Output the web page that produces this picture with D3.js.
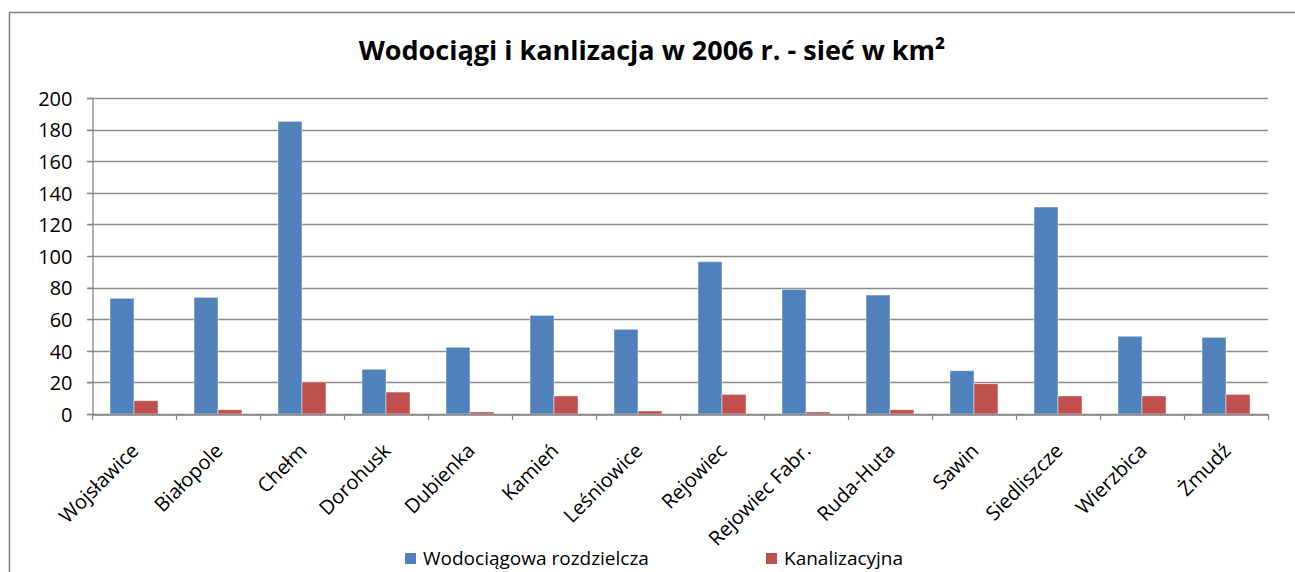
<!DOCTYPE html>
<html><head><meta charset="utf-8">
<script src="https://cdn.jsdelivr.net/npm/d3@7"></script>
<style>body{margin:0;background:#fff}svg{display:block}</style>
</head><body><svg id="c" width="1295" height="572"></svg>
<script>
const categories = ["Wojsławice","Białopole","Chełm","Dorohusk","Dubienka","Kamień","Leśniowice","Rejowiec","Rejowiec Fabr.","Ruda-Huta","Sawin","Siedliszcze","Wierzbica","Żmudź"];
const seriesNames = ["Wodociągowa rozdzielcza","Kanalizacyjna"];
const wodociagowa = [73.2,73.8,185.2,28.3,42.2,62.4,53.6,96.4,78.9,75.3,27.4,131.0,49.2,48.5];
const kanalizacyjna = [8.4,2.7,20.3,13.9,1.3,11.4,1.9,12.4,1.3,2.7,19.2,11.4,11.4,12.4];
const yTicks = [0,20,40,60,80,100,120,140,160,180,200];
const colors = ["#4F81BD","#C0504D"];
const title = "Wodociągi i kanlizacja w 2006 r. - sieć w km²";

const svg = d3.select("#c");
const font = "'Open Sans', 'Liberation Sans', sans-serif";
const L = 92, R = 1268, T = 98, B = 414;

// outer frame (top and left edges visible)
svg.append("rect").attr("x",9.5).attr("y",12.5).attr("width",1400).attr("height",700)
  .attr("fill","none").attr("stroke","#868686").attr("stroke-width",1.6);

svg.append("text").attr("x",652).attr("y",60).attr("text-anchor","middle")
  .attr("font-family",font).attr("font-weight","bold").attr("font-size",27).attr("fill","#000")
  .text(title);

const x = d3.scaleBand().domain(categories).range([L,R]).paddingInner(0).paddingOuter(0);
const x1 = d3.scaleBand().domain(seriesNames).range([0,x.bandwidth()]).paddingOuter(0.75).paddingInner(0);
const y = d3.scaleLinear().domain([0,200]).range([B,T]);

// gridlines
svg.append("g").selectAll("line").data(yTicks).join("line")
  .attr("x1",L-5).attr("x2",R).attr("y1",d=>Math.round(y(d))+0.5).attr("y2",d=>Math.round(y(d))+0.5)
  .attr("stroke","#8c8c8c").attr("stroke-width",1.3);

// y axis
const yAxis = d3.axisLeft(y).tickValues(yTicks).tickSize(5).tickPadding(15);
const gy = svg.append("g").attr("transform",`translate(${L+0.5},0)`).call(yAxis);
gy.select(".domain").attr("stroke","#868686").attr("stroke-width",1.3);
gy.selectAll(".tick line").attr("stroke","#868686");
gy.selectAll("text").attr("font-family",font).attr("font-size",20).attr("fill","#000").attr("dy","0.36em");

// bars
const data = categories.map((c,i)=>({c, vals:[wodociagowa[i],kanalizacyjna[i]]}));
const g = svg.append("g");
g.selectAll("g").data(data).join("g").attr("transform",d=>`translate(${x(d.c)},0)`)
  .selectAll("rect").data(d=>d.vals.map((v,k)=>({k,v}))).join("rect")
  .attr("x",d=>x1(seriesNames[d.k])).attr("width",x1.bandwidth())
  .attr("y",d=>y(d.v)).attr("height",d=>B-y(d.v))
  .attr("fill",d=>colors[d.k]).attr("stroke","rgba(255,255,255,0.45)").attr("stroke-width",1);

// x axis
const xAxis = d3.axisBottom(x).tickSize(0).tickFormat("");
const gx = svg.append("g").attr("transform",`translate(0,${B+0.5})`).call(xAxis);
gx.select(".domain").attr("stroke","#868686").attr("stroke-width",1.3);
const bounds = categories.map(c=>x(c)).concat([R]);
svg.append("g").selectAll("line").data(bounds).join("line")
  .attr("x1",d=>Math.round(d)+0.5).attr("x2",d=>Math.round(d)+0.5).attr("y1",B).attr("y2",B+6)
  .attr("stroke","#868686").attr("stroke-width",1.2);
svg.append("g").selectAll("text").data(categories).join("text")
  .attr("transform",c=>`translate(${x(c)+x.bandwidth()/2+6},${B+38}) rotate(-45)`)
  .attr("text-anchor","end").attr("font-family",font).attr("font-size",20).attr("fill","#000")
  .text(c=>c);

// legend
const legX = [405, 766];
const leg = svg.append("g").selectAll("g").data(seriesNames).join("g")
  .attr("transform",(d,i)=>`translate(${legX[i]},553)`);
leg.append("rect").attr("width",11).attr("height",11).attr("fill",(d,i)=>colors[i]);
leg.append("text").attr("x",18).attr("y",5.5).attr("dy","0.36em").attr("font-family",font)
  .attr("font-size",19).attr("fill","#000").text(d=>d);
</script></body></html>
